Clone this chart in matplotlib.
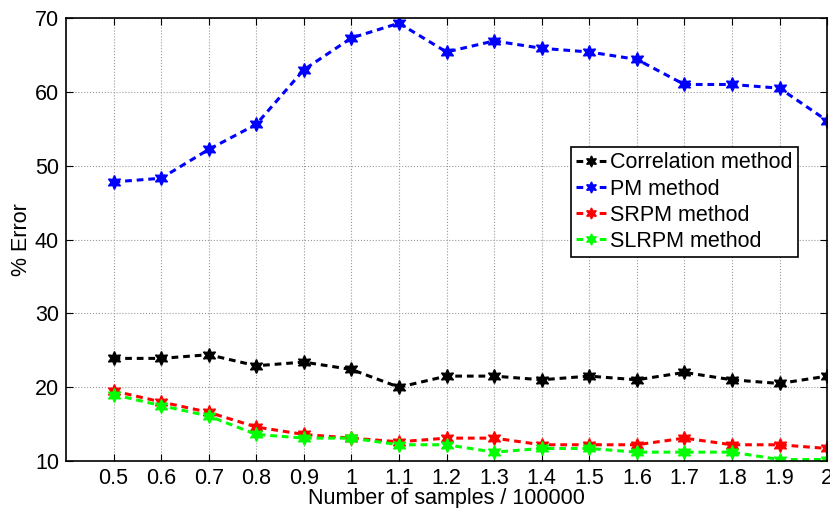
import matplotlib
matplotlib.use('Agg')
import matplotlib.pyplot as plt

plt.rcParams['font.family'] = ['Liberation Sans', 'DejaVu Sans']

amostras = [0.5, 0.6, 0.7, 0.8, 0.9, 1.0, 1.1, 1.2, 1.3, 1.4, 1.5, 1.6, 1.7, 1.8, 1.9, 2.0]
erro_corr = [23.9, 23.9, 24.4, 22.9, 23.4, 22.4, 20.0, 21.5, 21.5, 21.0, 21.5, 21.0, 22.0, 21.0, 20.5, 21.5]
erro_pm = [47.8, 48.3, 52.2, 55.6, 63.0, 67.3, 69.3, 65.4, 66.9, 65.9, 65.4, 64.4, 61.0, 61.0, 60.5, 56.1]
erro_srpm = [19.5, 18.0, 16.6, 14.6, 13.6, 13.1, 12.6, 13.1, 13.1, 12.2, 12.2, 12.2, 13.1, 12.2, 12.2, 11.7]
erro_slrpm = [19.0, 17.5, 16.1, 13.6, 13.1, 13.1, 12.2, 12.2, 11.2, 11.7, 11.7, 11.2, 11.2, 11.2, 10.2, 10.2]
rotulos_x = ['0.5', '0.6', '0.7', '0.8', '0.9', '1', '1.1', '1.2', '1.3', '1.4', '1.5', '1.6', '1.7', '1.8', '1.9', '2']

fig = plt.figure(figsize=(8.3, 5.08), dpi=100)
ax = fig.add_axes([0.0795, 0.0925, 0.917, 0.872])

estrela = (6, 1, 0)
estilo = dict(ls=(0, (2.2, 1.6)), marker=estrela, lw=2.2, ms=10)
ax.plot(amostras, erro_corr, color='k', label='Correlation method', **estilo)
ax.plot(amostras, erro_pm, color='b', label='PM method', **estilo)
ax.plot(amostras, erro_srpm, color='r', label='SRPM method', **estilo)
ax.plot(amostras, erro_slrpm, color='#00ff00', label='SLRPM method', **estilo)

ax.set_xlim(0.4, 2.0)
ax.set_ylim(10, 70)
ax.set_xticks(amostras)
ax.set_xticklabels(rotulos_x)
ax.set_yticks([10, 20, 30, 40, 50, 60, 70])
ax.tick_params(direction='in', top=True, right=True, labelsize=15.5, length=5, pad=5)
ax.grid(True, linestyle=':', color='#999999', lw=0.8)
for s in ax.spines.values():
    s.set_linewidth(1.2)

ax.set_xlabel('Number of samples / 100000', fontsize=15.5, labelpad=-1)
ax.set_ylabel('% Error', fontsize=15.5, labelpad=2)

leg = ax.legend(loc='upper left', bbox_to_anchor=(0.6636, 0.7088), fontsize=15.5, fancybox=False,
                framealpha=1, edgecolor='k', handlelength=1.35, handletextpad=0.2,
                borderpad=0.25, labelspacing=0.24, borderaxespad=0, markerscale=0.8)
leg.get_frame().set_linewidth(1.2)

fig.savefig('out.png', dpi=100)
